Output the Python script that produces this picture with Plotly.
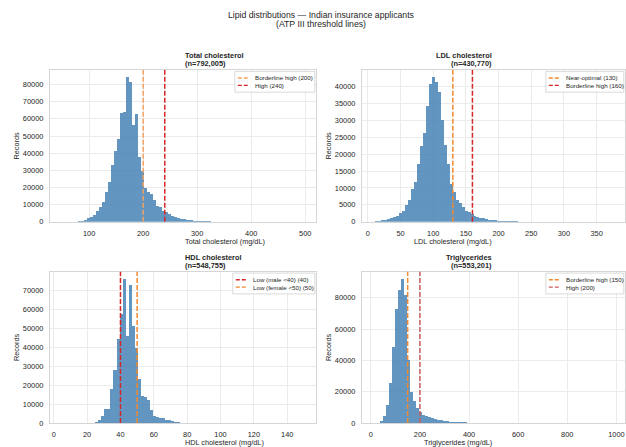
import plotly.graph_objects as go
from plotly.subplots import make_subplots

# ---------------- data ----------------
tc_bin_start, tc_bin_width = 50.6, 5.6
tc_counts = [0, 0, 0, 0, 20, 150, 400, 1000, 2000, 3000,
             4000, 6000, 8500, 11500, 17400, 22900, 33000, 41000, 48400, 63600,
             64300, 84300, 81400, 56200, 62600, 37800, 29600, 19400, 17400, 16000,
             12600, 9100, 8800, 6000, 5500, 4500, 3500, 2800, 2200, 1800,
             1400, 1000, 800, 600, 450, 350, 250, 180, 130, 100,
             80, 60, 50, 40, 30, 25, 20, 15, 12, 10,
             8, 7, 6, 5, 4, 4, 3, 3, 2, 2,
             2, 2, 1, 1, 1, 1, 1, 1, 1, 1]

ldl_bin_start, ldl_bin_width = 11.5, 4.55
ldl_counts = [250, 350, 500, 650, 850, 1100, 1400, 1800, 2500, 3300,
              4900, 6400, 9600, 11800, 17200, 22400, 26200, 34400, 40800, 42800,
              41300, 38300, 30000, 22800, 17000, 11200, 8800, 6400, 5500, 4400,
              3300, 2900, 2300, 1800, 1500, 1200, 1000, 800, 650, 500,
              400, 330, 260, 200, 150, 120, 90, 70, 50, 40,
              30, 25, 20, 15, 12, 10, 8, 6, 5, 4,
              4, 3, 3, 2, 2, 2, 1, 1, 1, 1,
              1, 1, 1, 1, 1, 1, 1, 1, 1, 1]

hdl_bin_start, hdl_bin_width = 5.0, 1.8125
hdl_counts = [0, 0, 0, 0, 0, 0, 0, 10, 50, 150,
              400, 900, 1600, 3900, 7300, 7700, 17900, 28400, 44600, 57700,
              76100, 46300, 73000, 51200, 39600, 23500, 14400, 13900, 12200, 7000,
              4000, 3300, 3000, 2600, 2000, 1500, 1100, 700, 900, 400,
              300, 200, 150, 100, 80, 60, 50, 40, 30, 20,
              15, 10, 8, 6, 5, 4, 3, 3, 2, 2,
              2, 1, 1, 1, 1, 1, 1, 1, 1, 1,
              1, 1, 1, 1, 1, 1, 1, 1, 1, 1]

tg_bin_start, tg_bin_width = 12.7, 12.17
tg_counts = [30, 300, 1500, 4700, 11800, 26000, 49000, 73000, 85000, 92000,
             82000, 40500, 20000, 14000, 9500, 7000, 5500, 4600, 3800, 3100,
             2600, 2200, 1900, 1600, 1350, 1150, 1000, 850, 750, 650,
             560, 480, 420, 370, 320, 200, 150, 120, 100, 90,
             80, 70, 60, 55, 50, 45, 40, 35, 30, 28,
             25, 22, 20, 18, 16, 14, 12, 11, 10, 9,
             8, 7, 6, 6, 5, 5, 4, 4, 3, 3,
             3, 2, 2, 2, 2, 2, 1, 1, 1, 1]

tc_thresholds = [200, 240]
tc_labels = ["Borderline high (200)", "High (240)"]
ldl_thresholds = [130, 160]
ldl_labels = ["Near-optimal (130)", "Borderline high (160)"]
hdl_thresholds = [40, 50]
hdl_labels = ["Low (male <40) (40)", "Low (female <50) (50)"]
tg_thresholds = [150, 200]
tg_labels = ["Borderline high (150)", "High (200)"]

panel_titles = ["Total cholesterol", "LDL cholesterol", "HDL cholesterol", "Triglycerides"]
panel_n = ["792,005", "430,770", "548,755", "553,201"]
x_titles = ["Total cholesterol (mg/dL)", "LDL cholesterol (mg/dL)",
            "HDL cholesterol (mg/dL)", "Triglycerides (mg/dL)"]

tc_xticks = [100, 200, 300, 400, 500]
ldl_xticks = [0, 50, 100, 150, 200, 250, 300, 350]
hdl_xticks = [0, 20, 40, 60, 80, 100, 120, 140]
tg_xticks = [0, 200, 400, 600, 800, 1000]

# ---------------- styling / layout ----------------
W, H = 626, 447
ML, MR, MT, MB = 50, 1, 70, 24
PW = W - ML - MR
PH = H - MT - MB


def fx(px):
    return (px - ML) / PW


def fy(py):
    return (H - MB - py) / PH


FONT = "Liberation Sans, Arial, sans-serif"
TXT = "#262626"
BAR = "rgba(70,130,180,0.85)"
ORANGE = "#f28a2e"
SANDY = "#f2a262"
RED = "#d62728"
INDRED = "#cd5c5c"

panels = [
    dict(start=tc_bin_start, w=tc_bin_width, counts=tc_counts, thr=tc_thresholds,
         lab=tc_labels, colors=[SANDY, RED], xr=[27.5, 520], ticks=tc_xticks, dy=10000,
         px=(50, 316), py=(70, 221.7), legw=80),
    dict(start=ldl_bin_start, w=ldl_bin_width, counts=ldl_counts, thr=ldl_thresholds,
         lab=ldl_labels, colors=[ORANGE, RED], xr=[-9, 393.5], ticks=ldl_xticks, dy=5000,
         px=(362, 625), py=(70, 221.7), legw=78),
    dict(start=hdl_bin_start, w=hdl_bin_width, counts=hdl_counts, thr=hdl_thresholds,
         lab=hdl_labels, colors=[RED, ORANGE], xr=[-2.25, 157.25], ticks=hdl_xticks, dy=10000,
         px=(50, 316), py=(271.7, 423), legw=82),
    dict(start=tg_bin_start, w=tg_bin_width, counts=tg_counts, thr=tg_thresholds,
         lab=tg_labels, colors=[ORANGE, INDRED], xr=[-36, 1035], ticks=tg_xticks, dy=20000,
         px=(362, 625), py=(271.7, 423), legw=78),
]

fig = make_subplots(rows=2, cols=2)
annotations = []
shapes = []

for i, p in enumerate(panels):
    row, col = i // 2 + 1, i % 2 + 1
    xs = [p["start"] + p["w"] * (k + 0.5) for k in range(len(p["counts"]))]
    fig.add_trace(go.Bar(x=xs, y=p["counts"], width=p["w"],
                         marker=dict(color=BAR, line=dict(width=0)),
                         showlegend=False, hoverinfo="skip"), row=row, col=col)
    ymax = max(p["counts"]) * 1.05
    axn = "" if i == 0 else str(i + 1)
    for v, c in zip(p["thr"], p["colors"]):
        shapes.append(dict(type="line", xref="x" + axn, yref="y" + axn + " domain",
                           x0=v, x1=v, y0=0, y1=1, layer="above",
                           line=dict(color=c, width=1.5, dash="5px,2px")))
    common = dict(showgrid=True, gridcolor="#ebebeb", gridwidth=1, zeroline=False,
                  showline=True, mirror=True, linecolor="#d6d6d6", linewidth=1.3,
                  ticks="outside", ticklen=4, tickcolor="rgba(0,0,0,0)",
                  tickfont=dict(family=FONT, size=7.4, color=TXT))
    fig.update_xaxes(range=p["xr"], tickvals=p["ticks"],
                     domain=[fx(p["px"][0]), fx(p["px"][1])], row=row, col=col, **common)
    fig.update_yaxes(range=[0, ymax], dtick=p["dy"], tickformat="d",
                     domain=[fy(p["py"][1]), fy(p["py"][0])], row=row, col=col, **common)

    cx = (p["px"][0] + p["px"][1]) / 2
    top, bot = p["py"]
    # subplot title
    annotations.append(dict(text="<b>%s</b>" % panel_titles[i], x=fx(cx), y=fy(top - 14.7),
                            xref="paper", yref="paper", showarrow=False, yanchor="middle",
                            font=dict(family=FONT, size=7.4, color=TXT)))
    annotations.append(dict(text="<b>(n=%s)</b>" % panel_n[i], x=fx(cx), y=fy(top - 6),
                            xref="paper", yref="paper", showarrow=False, yanchor="middle",
                            font=dict(family=FONT, size=7.4, color=TXT)))
    # axis titles
    annotations.append(dict(text=x_titles[i], x=fx(cx), y=fy(bot + 19.5),
                            xref="paper", yref="paper", showarrow=False, yanchor="middle",
                            font=dict(family=FONT, size=7.3, color=TXT)))
    annotations.append(dict(text="Records", x=fx(p["px"][0] - 33.3), y=fy((top + bot) / 2),
                            xref="paper", yref="paper", showarrow=False, textangle=-90,
                            xanchor="center", yanchor="middle",
                            font=dict(family=FONT, size=7.3, color=TXT)))
    # legend (manual)
    r = p["px"][1] - 1.2
    l = r - p["legw"]
    t = top + 1.4
    b = t + 20.8
    shapes.append(dict(type="rect", xref="paper", yref="paper", x0=fx(l), x1=fx(r),
                       y0=fy(b), y1=fy(t), fillcolor="rgba(255,255,255,0.85)",
                       line=dict(color="#d0d0d0", width=0.8), layer="above"))
    for j, (lab, c) in enumerate(zip(p["lab"], p["colors"])):
        yy = t + 6.6 + j * 7.4
        shapes.append(dict(type="line", xref="paper", yref="paper", x0=fx(l + 3),
                           x1=fx(l + 14), y0=fy(yy), y1=fy(yy), layer="above",
                           line=dict(color=c, width=1.4, dash="4px,2px")))
        annotations.append(dict(text=lab, x=fx(l + 18.5), y=fy(yy), xref="paper", yref="paper",
                                showarrow=False, xanchor="left", yanchor="middle",
                                font=dict(family=FONT, size=6.2, color=TXT)))

# suptitle
annotations.append(dict(text="Lipid distributions \u2014 Indian insurance applicants",
                        x=fx(321), y=fy(15), xref="paper", yref="paper", showarrow=False,
                        yanchor="middle", font=dict(family=FONT, size=8.7, color=TXT)))
annotations.append(dict(text="(ATP III threshold lines)",
                        x=fx(321), y=fy(24), xref="paper", yref="paper", showarrow=False,
                        yanchor="middle", font=dict(family=FONT, size=8.7, color=TXT)))

fig.update_layout(width=W, height=H, margin=dict(l=ML, r=MR, t=MT, b=MB, autoexpand=False),
                  paper_bgcolor="white", plot_bgcolor="white", showlegend=False,
                  bargap=0, annotations=annotations, shapes=shapes,
                  font=dict(family=FONT, color=TXT))

fig.write_html("out.html", config={"displayModeBar": False},
               post_script="document.body.style.margin='0';document.body.style.padding='0';")
